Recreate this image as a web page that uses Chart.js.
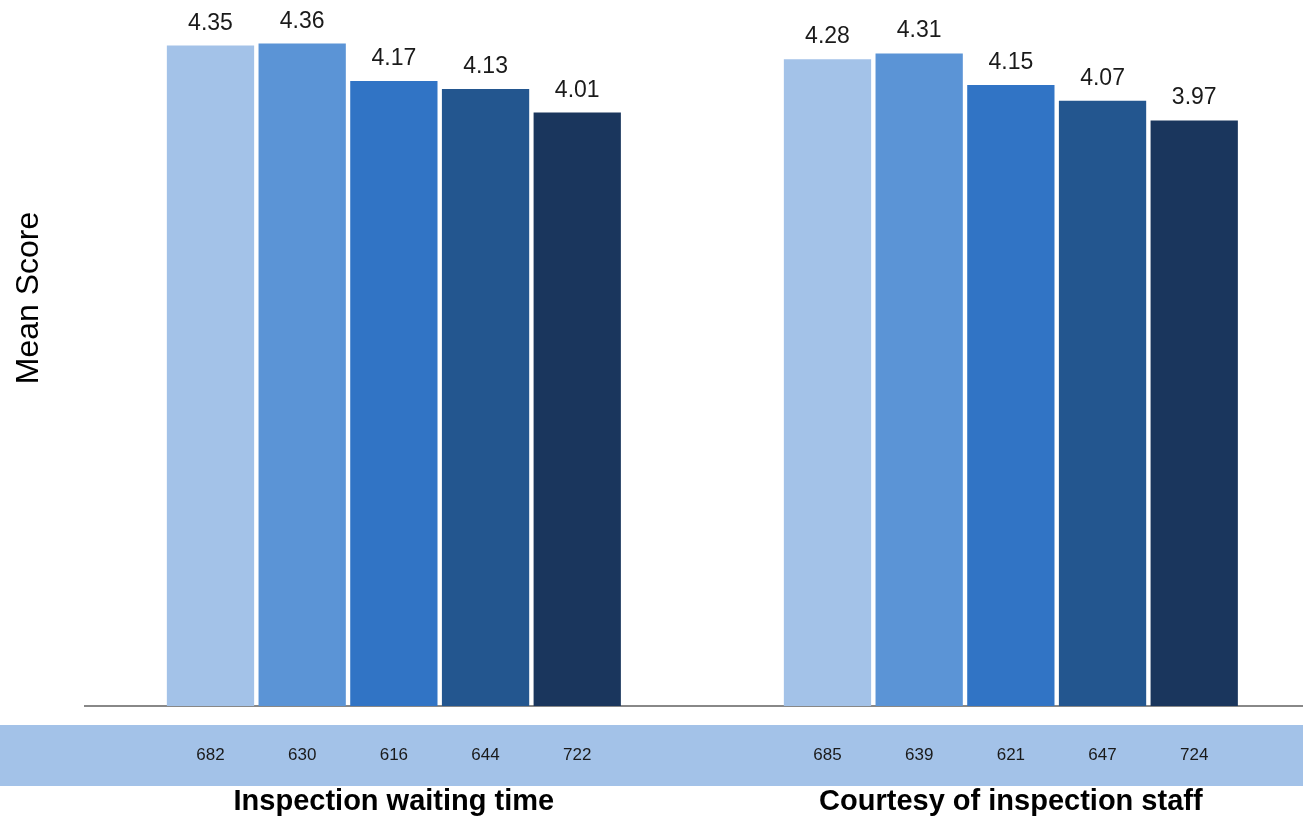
<!DOCTYPE html>
<html>
<head>
<meta charset="utf-8">
<script src="https://cdn.jsdelivr.net/npm/chart.js@4.4.1/dist/chart.umd.min.js"></script>
<style>
  html, body { margin: 0; padding: 0; background: #ffffff; }
  #wrap { width: 1303px; height: 819px; }
</style>
</head>
<body>
<div id="wrap"><canvas id="chart" width="1303" height="819"></canvas></div>
<script>
// Survey items shown along the x axis
const categories = ['Inspection waiting time', 'Courtesy of inspection staff'];

// Five survey waves, one bar per wave in each item group
const seriesNames = ['Wave 1', 'Wave 2', 'Wave 3', 'Wave 4', 'Wave 5'];
const seriesColors = ['#A3C2E8', '#5B94D6', '#3174C5', '#23568F', '#1A365D'];

// Mean scores per wave
const waitingTimeScores = [4.35, 4.36, 4.17, 4.13, 4.01];
const courtesyScores = [4.28, 4.31, 4.15, 4.07, 3.97];

// Number of respondents per wave
const waitingTimeCounts = [682, 630, 616, 644, 722];
const courtesyCounts = [685, 639, 621, 647, 724];

const scoresByCategory = [waitingTimeScores, courtesyScores];
const countsByCategory = [waitingTimeCounts, courtesyCounts];

const FONT = '"Liberation Sans", Arial, Helvetica, sans-serif';
const BAND_COLOR = '#A3C2E8';

const datasets = seriesNames.map((name, s) => ({
  label: name,
  data: scoresByCategory.map((scores, c) => ({ x: c, y: scores[s] })),
  counts: countsByCategory.map(counts => counts[s]),
  backgroundColor: seriesColors[s],
  borderWidth: 0,
  categoryPercentage: 0.743,
  barPercentage: 0.952
}));

// Extra drawing: respondent band, value labels and the y-axis caption
const annotations = {
  id: 'annotations',
  beforeDatasetsDraw(chart) {
    const { ctx, chartArea, width } = chart;
    ctx.save();
    ctx.fillStyle = BAND_COLOR;
    ctx.fillRect(0, chartArea.bottom + 19, width, 61);
    ctx.restore();
  },
  afterDatasetsDraw(chart) {
    const { ctx, chartArea } = chart;
    ctx.save();
    chart.data.datasets.forEach((ds, i) => {
      const meta = chart.getDatasetMeta(i);
      meta.data.forEach((bar, j) => {
        const value = ds.data[j].y;
        ctx.fillStyle = '#1a1a1a';
        ctx.textAlign = 'center';
        ctx.textBaseline = 'alphabetic';
        ctx.font = '23px ' + FONT;
        ctx.fillText(value.toFixed(2), bar.x, bar.y - 16);

        ctx.font = '17px ' + FONT;
        ctx.fillText(String(ds.counts[j]), bar.x, chartArea.bottom + 53.5);
      });
    });
    ctx.restore();
  },
  afterDraw(chart) {
    const { ctx } = chart;
    ctx.save();
    ctx.translate(37.5, 298);
    ctx.rotate(-Math.PI / 2);
    ctx.fillStyle = '#000000';
    ctx.font = '32px ' + FONT;
    ctx.textAlign = 'center';
    ctx.textBaseline = 'alphabetic';
    ctx.fillText('Mean Score', 0, 0);
    ctx.restore();
  }
};

new Chart(document.getElementById('chart'), {
  type: 'bar',
  data: { datasets },
  plugins: [annotations],
  options: {
    responsive: false,
    animation: false,
    devicePixelRatio: 1,
    layout: { padding: { top: 16, left: 85, right: 0, bottom: 0 } },
    plugins: {
      legend: { display: false },
      tooltip: { enabled: false }
    },
    scales: {
      x: {
        type: 'linear',
        offset: false,
        min: -0.5006,
        max: 1.4735,
        afterBuildTicks(scale) {
          scale.ticks = categories.map((_, i) => ({ value: i }));
        },
        afterFit(scale) {
          scale.height = 113;
        },
        grid: { display: false, drawTicks: false, offset: false },
        border: { display: true, color: '#888888', width: 2 },
        ticks: {
          padding: 79,
          maxRotation: 0,
          autoSkip: false,
          color: '#000000',
          font: { family: FONT, size: 29, weight: 'bold' },
          callback: (value) => categories[value]
        }
      },
      y: {
        display: false,
        min: 1,
        max: 4.5
      }
    }
  }
});
</script>
</body>
</html>
